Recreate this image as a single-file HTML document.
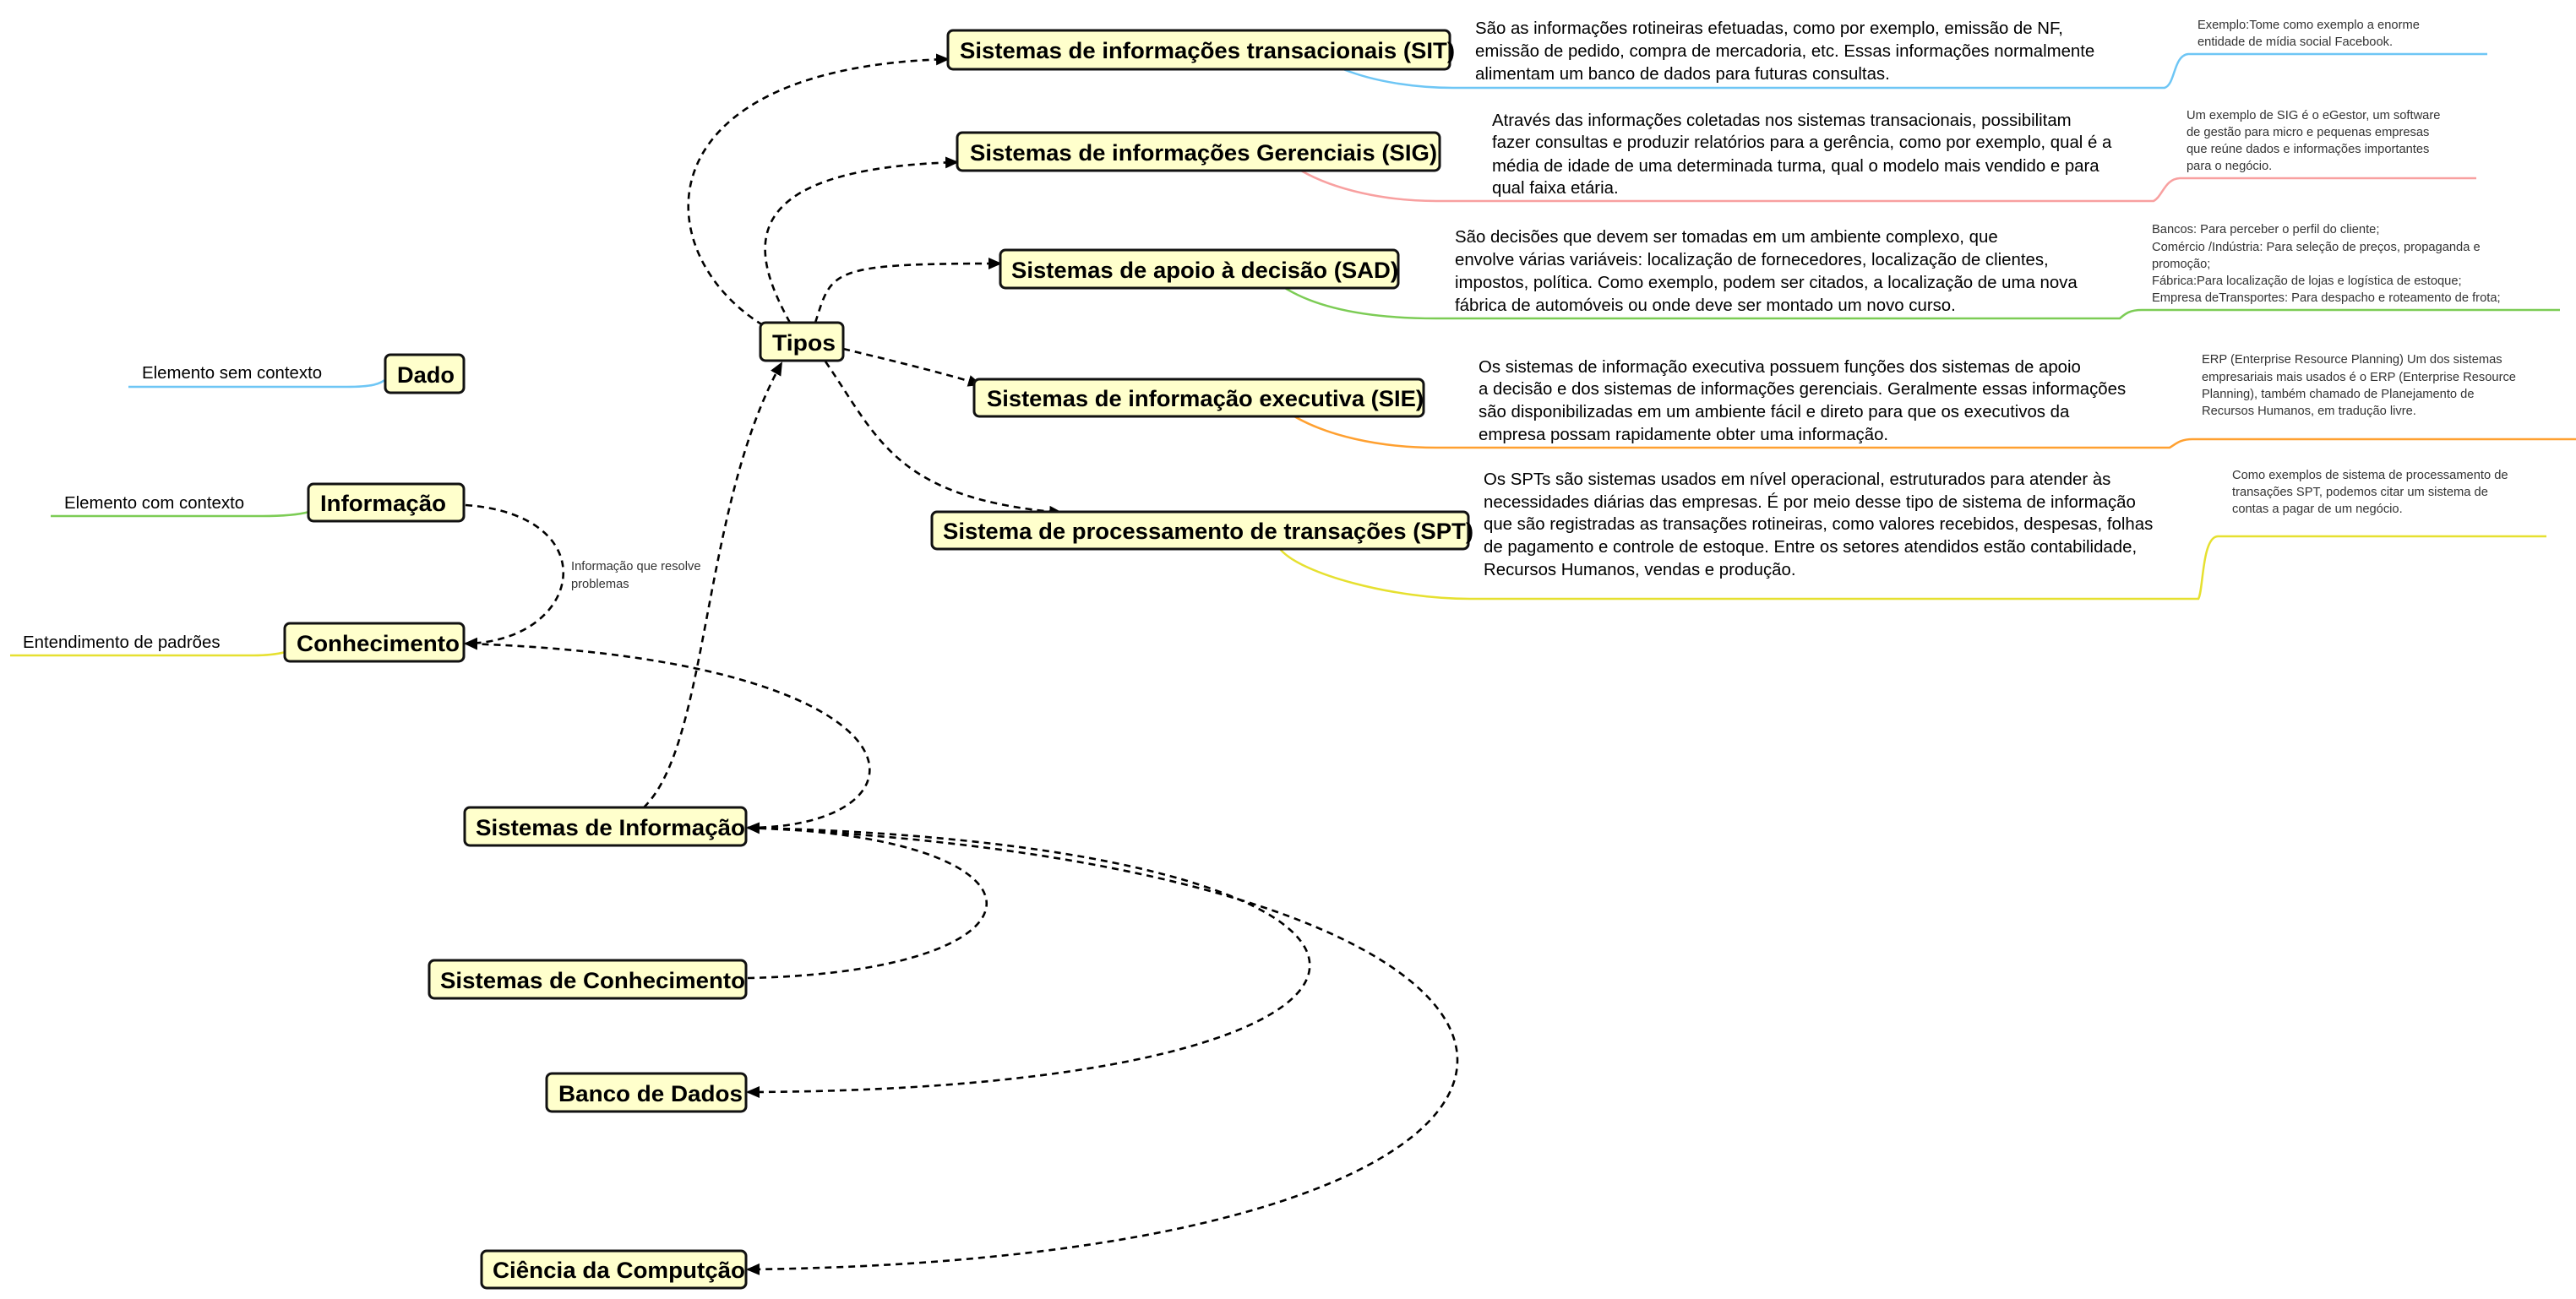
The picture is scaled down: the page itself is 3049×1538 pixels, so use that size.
<!DOCTYPE html>
<html><head><meta charset="utf-8"><style>
html,body{margin:0;padding:0;background:#fff;}
svg{display:block;}
text{font-family:"Liberation Sans",Arial,sans-serif;}
.b{font-weight:bold;font-size:27px;fill:#000;}
.d{font-size:20.4px;fill:#000;}
.s{font-size:14.7px;fill:#333;}
.box{fill:#ffffcc;stroke:#111;stroke-width:3;}
.c{fill:none;stroke:#000;stroke-width:2.6;stroke-dasharray:8 6;}
</style></head><body>
<svg width="3049" height="1538" viewBox="0 0 3049 1538" xmlns="http://www.w3.org/2000/svg">
<defs>
<marker id="a" markerWidth="16" markerHeight="16" refX="14" refY="8" orient="auto" markerUnits="userSpaceOnUse" viewBox="0 0 16 16"><path d="M0,1 L16,8 L0,15 z" fill="#000"/></marker>
</defs>
<!-- connectors -->
<path class="c" d="M903 385 C765 300 755 80 1122 70" marker-end="url(#a)"/>
<path class="c" d="M935 382 C890 300 860 200 1133 192" marker-end="url(#a)"/>
<path class="c" d="M965 382 C985 320 980 312 1184 312" marker-end="url(#a)"/>
<path class="c" d="M998 413 C1060 428 1110 440 1160 455" marker-end="url(#a)"/>
<path class="c" d="M977 428 C1040 520 1060 590 1256 607" marker-end="url(#a)"/>
<path class="c" d="M762 956 C840 880 830 600 925 430" marker-end="url(#a)"/>
<path class="c" d="M551 598 C720 610 690 760 551 762" marker-end="url(#a)"/>
<path class="c" d="M885 980 C1115 980 1115 780 551 762" marker-end="url(#a)"/>
<path class="c" d="M885 1158 C1262 1150 1262 990 885 980" marker-end="url(#a)"/>
<path class="c" d="M885 980 C1772 1000 1772 1290 885 1293" marker-end="url(#a)"/>
<path class="c" d="M885 980 C2005 1030 2005 1490 885 1503" marker-end="url(#a)"/>

<!-- colored branch lines -->
<path fill="none" stroke="#6ec6f5" stroke-width="2.5" d="M1590 82 C1630 98 1680 104 1720 104 L2562 104 C2575 100 2572 66 2590 64 L2944 64"/>
<path fill="none" stroke="#f8a0a0" stroke-width="2.5" d="M1540 202 C1580 225 1640 238 1700 238 L2549 238 C2560 232 2562 212 2580 211 L2931 211"/>
<path fill="none" stroke="#7ccc55" stroke-width="2.5" d="M1521 341 C1560 365 1620 377 1700 377 L2509 377 C2515 372 2520 367 2535 367 L3030 367"/>
<path fill="none" stroke="#ffa030" stroke-width="2.5" d="M1532 493 C1570 515 1630 530 1700 530 L2568 530 C2575 526 2580 520 2595 520 L3049 520"/>
<path fill="none" stroke="#e6e030" stroke-width="2.5" d="M1515 650 C1540 680 1650 709 1740 709 L2602 709 C2608 700 2606 636 2625 635 L3014 635"/>
<path fill="none" stroke="#6ec6f5" stroke-width="2.5" d="M152 458 L410 458 C440 458 450 455 458 448"/>
<path fill="none" stroke="#7ccc55" stroke-width="2.5" d="M60 611 L310 611 C340 611 355 609 366 606"/>
<path fill="none" stroke="#e6e030" stroke-width="2.5" d="M12 776 L300 776 C320 776 330 774 338 772"/>

<!-- boxes -->
<rect class="box" x="456" y="420" width="93" height="45" rx="6"/>
<text class="b" x="470" y="453" textLength="68" lengthAdjust="spacingAndGlyphs">Dado</text>
<rect class="box" x="900" y="382" width="98" height="45" rx="6"/>
<text class="b" x="914" y="415" textLength="75" lengthAdjust="spacingAndGlyphs">Tipos</text>
<rect class="box" x="365" y="573" width="184" height="44" rx="6"/>
<text class="b" x="379" y="605" textLength="149" lengthAdjust="spacingAndGlyphs">Informação</text>
<rect class="box" x="337" y="738" width="212" height="45" rx="6"/>
<text class="b" x="351" y="771" textLength="193" lengthAdjust="spacingAndGlyphs">Conhecimento</text>
<rect class="box" x="550" y="956" width="333" height="45" rx="6"/>
<text class="b" x="563" y="989" textLength="319" lengthAdjust="spacingAndGlyphs">Sistemas de Informação</text>
<rect class="box" x="508" y="1137" width="375" height="45" rx="6"/>
<text class="b" x="521" y="1170" textLength="361" lengthAdjust="spacingAndGlyphs">Sistemas de Conhecimento</text>
<rect class="box" x="647" y="1271" width="236" height="45" rx="6"/>
<text class="b" x="661" y="1304" textLength="218" lengthAdjust="spacingAndGlyphs">Banco de Dados</text>
<rect class="box" x="570" y="1481" width="313" height="44" rx="6"/>
<text class="b" x="583" y="1513" textLength="299" lengthAdjust="spacingAndGlyphs">Ciência da Computção</text>

<rect class="box" x="1122" y="36" width="594" height="46" rx="6"/>
<text class="b" x="1136" y="69" textLength="586" lengthAdjust="spacingAndGlyphs">Sistemas de informações transacionais (SIT)</text>
<rect class="box" x="1133" y="157" width="571" height="45" rx="6"/>
<text class="b" x="1148" y="190" textLength="553" lengthAdjust="spacingAndGlyphs">Sistemas de informações Gerenciais (SIG)</text>
<rect class="box" x="1184" y="296" width="471" height="45" rx="6"/>
<text class="b" x="1197" y="329" textLength="458" lengthAdjust="spacingAndGlyphs">Sistemas de apoio à decisão (SAD)</text>
<rect class="box" x="1153" y="449" width="532" height="44" rx="6"/>
<text class="b" x="1168" y="481" textLength="517" lengthAdjust="spacingAndGlyphs">Sistemas de informação executiva (SIE)</text>
<rect class="box" x="1103" y="606" width="635" height="44" rx="6"/>
<text class="b" x="1116" y="638" textLength="628" lengthAdjust="spacingAndGlyphs">Sistema de processamento de transações (SPT)</text>

<!-- left labels -->
<text class="d" x="168" y="448">Elemento sem contexto</text>
<text class="d" x="76" y="602">Elemento com contexto</text>
<text class="d" x="27" y="767">Entendimento de padrões</text>
<text class="s" x="676" y="675">Informação que resolve</text>
<text class="s" x="676" y="696">problemas</text>

<!-- descriptions -->
<g class="d">
<text x="1746" y="40">São as informações rotineiras efetuadas, como por exemplo, emissão de NF,</text>
<text x="1746" y="67">emissão de pedido, compra de mercadoria, etc. Essas informações normalmente</text>
<text x="1746" y="94">alimentam um banco de dados para futuras consultas.</text>

<text x="1766" y="149">Através das informações coletadas nos sistemas transacionais, possibilitam</text>
<text x="1766" y="175">fazer consultas e produzir relatórios para a gerência, como por exemplo, qual é a</text>
<text x="1766" y="203">média de idade de uma determinada turma, qual o modelo mais vendido e para</text>
<text x="1766" y="229">qual faixa etária.</text>

<text x="1722" y="287">São decisões que devem ser tomadas em um ambiente complexo, que</text>
<text x="1722" y="314">envolve várias variáveis: localização de fornecedores, localização de clientes,</text>
<text x="1722" y="341">impostos, política. Como exemplo, podem ser citados, a localização de uma nova</text>
<text x="1722" y="368">fábrica de automóveis ou onde deve ser montado um novo curso.</text>

<text x="1750" y="441">Os sistemas de informação executiva possuem funções dos sistemas de apoio</text>
<text x="1750" y="467">a decisão e dos sistemas de informações gerenciais. Geralmente essas informações</text>
<text x="1750" y="494">são disponibilizadas em um ambiente fácil e direto para que os executivos da</text>
<text x="1750" y="521">empresa possam rapidamente obter uma informação.</text>

<text x="1756" y="574">Os SPTs são sistemas usados em nível operacional, estruturados para atender às</text>
<text x="1756" y="601">necessidades diárias das empresas. É por meio desse tipo de sistema de informação</text>
<text x="1756" y="627">que são registradas as transações rotineiras, como valores recebidos, despesas, folhas</text>
<text x="1756" y="654">de pagamento e controle de estoque. Entre os setores atendidos estão contabilidade,</text>
<text x="1756" y="681">Recursos Humanos, vendas e produção.</text>
</g>

<g class="s">
<text x="2601" y="34">Exemplo:Tome como exemplo a enorme</text>
<text x="2601" y="54">entidade de mídia social Facebook.</text>

<text x="2588" y="141">Um exemplo de SIG é o eGestor, um software</text>
<text x="2588" y="161">de gestão para micro e pequenas empresas</text>
<text x="2588" y="181">que reúne dados e informações importantes</text>
<text x="2588" y="201">para o negócio.</text>

<text x="2547" y="276">Bancos: Para perceber o perfil do cliente;</text>
<text x="2547" y="297">Comércio /Indústria: Para seleção de preços, propaganda e</text>
<text x="2547" y="317">promoção;</text>
<text x="2547" y="337">Fábrica:Para localização de lojas e logística de estoque;</text>
<text x="2547" y="357">Empresa deTransportes: Para despacho e roteamento de frota;</text>

<text x="2606" y="430">ERP (Enterprise Resource Planning) Um dos sistemas</text>
<text x="2606" y="451">empresariais mais usados é o ERP (Enterprise Resource</text>
<text x="2606" y="471">Planning), também chamado de Planejamento de</text>
<text x="2606" y="491">Recursos Humanos, em tradução livre.</text>

<text x="2642" y="567">Como exemplos de sistema de processamento de</text>
<text x="2642" y="587">transações SPT, podemos citar um sistema de</text>
<text x="2642" y="607">contas a pagar de um negócio.</text>
</g>
</svg>
</body></html>
